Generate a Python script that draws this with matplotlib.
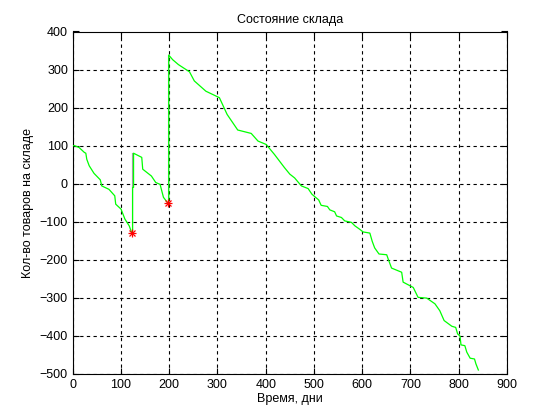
import numpy as np
import matplotlib
matplotlib.use("Agg")
import matplotlib.pyplot as plt

plt.rcParams['font.family'] = ['Liberation Sans', 'DejaVu Sans']

# stock level over time
days = [0, 3, 13, 24, 27, 29, 34, 44, 57, 60, 75, 87, 89, 100, 108, 117, 122.6,
        124, 124, 126, 126,
        143, 145, 163, 172, 181, 188, 197, 199, 199,
        207, 219, 242, 252, 276, 304, 320, 342, 370, 384, 401, 418, 439,
        450, 460, 474, 488, 496, 510, 515, 528, 533, 543, 547, 557, 564,
        578, 585, 595, 602, 616, 621, 626, 635, 651, 654, 661, 682, 685,
        706, 716, 734, 751, 761, 770, 786, 794, 798, 803, 805, 813, 817,
        824, 833, 836, 841]
stock = [100, 100, 95, 82, 80, 64, 47, 27, 10, -6, -15, -32, -54, -67, -93, -111, -131,
         -131, -10, -10, 80,
         69, 38, 20, 3, -2, -36, -51, -51, 338,
         326, 313, 294, 270, 243, 226, 182, 141, 132, 112, 103, 77, 42,
         25, 15, -6, -13, -28, -43, -57, -60, -69, -74, -85, -89, -98,
         -102, -111, -120, -127, -130, -152, -169, -185, -187, -198, -222, -233, -259,
         -273, -299, -301, -316, -334, -360, -375, -378, -395, -401, -424, -426, -443,
         -459, -461, -474, -490]

# reorder moments (red asterisks) and delivery levels (grey lines)
order_days = [122, 198]
order_levels = [-131, -51]
delivery_tops = [80, 338]

fig = plt.figure(figsize=(5.6, 4.2), dpi=100)
ax = fig.add_axes([0.13, 0.11, 0.775, 0.815])

ax.plot(days, stock, color='#00ff00', lw=0.9, zorder=3)
for d, lo, hi in zip(order_days, order_levels, delivery_tops):
    ax.plot([d, d], [lo, hi], color='#a0a0a0', lw=0.8, zorder=2)
ax.plot(order_days, order_levels, ls='none', marker='+', ms=6, mew=0.9, color='red', zorder=4)
ax.plot(order_days, order_levels, ls='none', marker='x', ms=4, mew=0.9, color='red', zorder=4)

ax.set_xlim(0, 900)
ax.set_ylim(-500, 400)
ax.set_xticks(np.arange(0, 901, 100))
ax.set_yticks(np.arange(-500, 401, 100))
ax.grid(True, color='black', ls=(0, (3, 3)), lw=0.8)
ax.tick_params(direction='in', top=True, right=True, length=4, labelsize=9, width=0.8)
for s in ax.spines.values():
    s.set_linewidth(0.8)

ax.set_title('Состояние склада', fontsize=9)
ax.set_xlabel('Время, дни', fontsize=9, labelpad=2)
ax.set_ylabel('Кол-во товаров на складе', fontsize=9)

fig.savefig('out.png', dpi=100)
